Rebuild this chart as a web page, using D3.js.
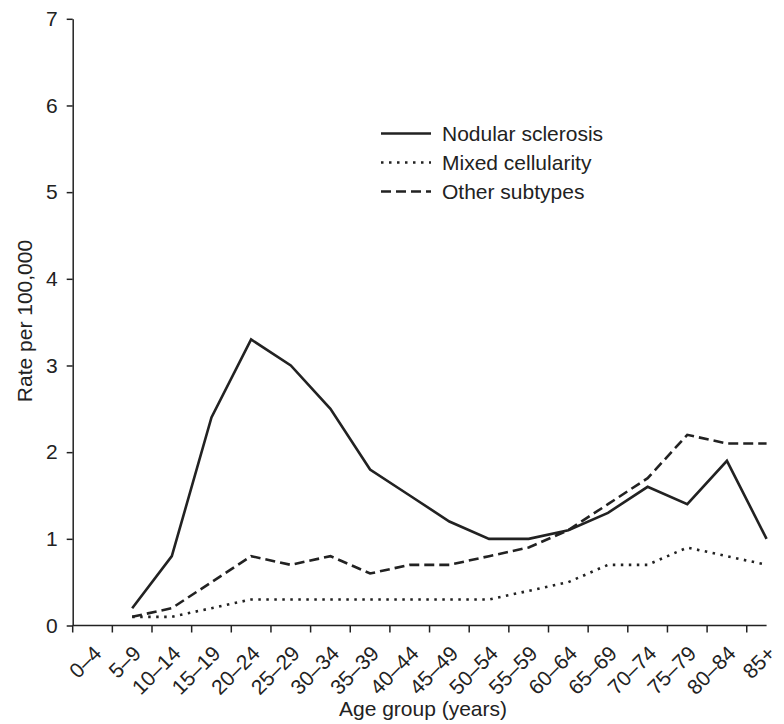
<!DOCTYPE html>
<html>
<head>
<meta charset="utf-8">
<script src="https://cdn.jsdelivr.net/npm/d3@7"></script>
<style>
  body { margin: 0; background: #fff; }
  svg text { font-family: "Liberation Sans", Arial, Helvetica, sans-serif; fill: #222; }
  .axis path, .axis line { stroke: #222; stroke-width: 1.5; }
</style>
</head>
<body>
<div id="chart"></div>
<script>
// --- DATOS ---
const ageGroups = ["0–4", "5–9", "10–14", "15–19", "20–24", "25–29", "30–34", "35–39", "40–44",
  "45–49", "50–54", "55–59", "60–64", "65–69", "70–74", "75–79", "80–84", "85+"];

// null = sin dato (0–4)
const nodularSclerosis = [null, 0.2, 0.8, 2.4, 3.3, 3.0, 2.5, 1.8, 1.5, 1.2, 1.0, 1.0, 1.1, 1.3, 1.6, 1.4, 1.9, 1.0];
const mixedCellularity = [null, 0.1, 0.1, 0.2, 0.3, 0.3, 0.3, 0.3, 0.3, 0.3, 0.3, 0.4, 0.5, 0.7, 0.7, 0.9, 0.8, 0.7];
const otherSubtypes    = [null, 0.1, 0.2, 0.5, 0.8, 0.7, 0.8, 0.6, 0.7, 0.7, 0.8, 0.9, 1.1, 1.4, 1.7, 2.2, 2.1, 2.1];

const yTicks = [0, 1, 2, 3, 4, 5, 6, 7];

const series = [
  { name: "Nodular sclerosis", values: nodularSclerosis, dash: null },
  { name: "Mixed cellularity", values: mixedCellularity, dash: "2.5,5.5" },
  { name: "Other subtypes", values: otherSubtypes, dash: "10,5" }
];

// --- CONFIGURACIÓN ---
const W = 784, H = 724;
const x0 = 72.7, bandW = 39.65;
const yBottom = 625.5, yTop = 18.8;
const fs = 21;

const svg = d3.select("#chart").append("svg")
  .attr("width", W).attr("height", H);

// --- ESCALAS ---
const x = d3.scaleBand()
  .domain(ageGroups)
  .range([x0, x0 + bandW * ageGroups.length])
  .padding(0);

const y = d3.scaleLinear().domain([0, 7]).range([yBottom, yTop]);

const cx = d => x(d) + x.bandwidth() / 2;

// --- EJE X ---
const gx = svg.append("g").attr("class", "axis axis--x")
  .attr("transform", `translate(0,${yBottom})`)
  .call(d3.axisBottom(x).tickSize(7).tickSizeOuter(0));

gx.select(".domain").remove();
gx.append("line")
  .attr("x1", x0).attr("x2", cx(ageGroups[ageGroups.length - 1]))
  .attr("y1", 0).attr("y2", 0);

// ticks en el borde izquierdo de cada banda
gx.selectAll(".tick line")
  .attr("x1", -x.bandwidth() / 2).attr("x2", -x.bandwidth() / 2);

gx.selectAll(".tick text")
  .attr("font-size", fs)
  .attr("text-anchor", "end")
  .attr("y", 0).attr("dy", "0.35em")
  .attr("transform", "translate(5,24) rotate(-45)");

// --- EJE Y ---
const gy = svg.append("g").attr("class", "axis axis--y")
  .attr("transform", `translate(${x0},0)`)
  .call(d3.axisLeft(y).tickValues(yTicks).tickFormat(d3.format("d"))
    .tickSize(6).tickSizeOuter(0).tickPadding(9));

gy.selectAll(".tick text").attr("font-size", fs);

// --- TÍTULOS ---
svg.append("text")
  .attr("x", 423).attr("y", 716)
  .attr("text-anchor", "middle")
  .attr("font-size", fs)
  .text("Age group (years)");

svg.append("text")
  .attr("transform", "translate(32,321) rotate(-90)")
  .attr("text-anchor", "middle")
  .attr("font-size", fs)
  .text("Rate per 100,000");

// --- LÍNEAS ---
const line = d3.line()
  .defined(d => d.v != null)
  .x(d => cx(d.g))
  .y(d => y(d.v));

series.forEach(s => {
  svg.append("path")
    .datum(ageGroups.map((g, i) => ({ g, v: s.values[i] })))
    .attr("fill", "none")
    .attr("stroke", "#222")
    .attr("stroke-width", 2.6)
    .attr("stroke-linejoin", "miter")
    .attr("stroke-dasharray", s.dash)
    .attr("d", line);
});

// --- LEYENDA ---
const legend = svg.append("g").attr("transform", "translate(381,133.5)");
series.forEach((s, i) => {
  const row = legend.append("g").attr("transform", `translate(0,${i * 29})`);
  row.append("line")
    .attr("x1", 0).attr("x2", 50)
    .attr("stroke", "#222").attr("stroke-width", 2.6)
    .attr("stroke-dasharray", s.dash);
  row.append("text")
    .attr("x", 61).attr("dy", "0.35em")
    .attr("font-size", fs)
    .text(s.name);
});
</script>
</body>
</html>
